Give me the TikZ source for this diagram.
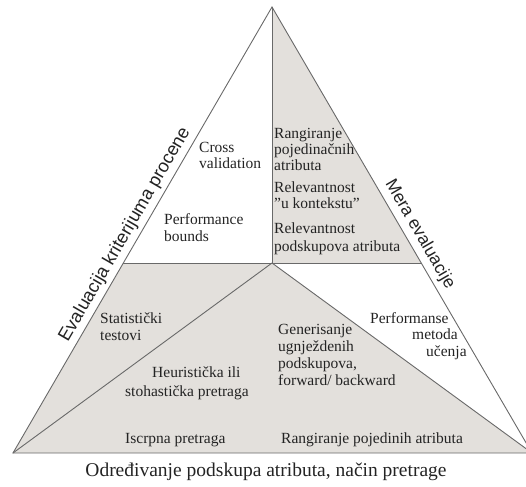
\documentclass[tikz,border=0pt]{standalone}
\usepackage{fontspec}
\setmainfont{Liberation Serif}
\newfontfamily\labelsans{Liberation Sans}
\usetikzlibrary{calc}
\definecolor{panel}{RGB}{227,224,220}
\definecolor{edge}{RGB}{105,105,105}
\definecolor{ink}{RGB}{35,35,35}
\begin{document}
\begin{tikzpicture}[x=1pt,y=-1pt,
  txt/.style={inner sep=0pt, text=ink, anchor=base west, align=left,
              font=\fontsize{15.5}{17}\selectfont},
  axislabel/.style={inner sep=0pt, text=ink, anchor=base,
              font=\labelsans\fontsize{17.5}{20}\selectfont},
  divider/.style={draw=edge, line width=0.9pt}]
\clip (0,0) rectangle (526,486);

% corners of the pyramid and the inner meeting point
\coordinate (A)  at (272,7);
\coordinate (BL) at (13,453);
\coordinate (BR) at (532,453);
\coordinate (C)  at (272,263);
\coordinate (HL) at ($(BL)!{190/446}!(A)$);
\coordinate (HR) at ($(BR)!{190/446}!(A)$);

% shaded sectors
\fill[panel] (A) -- (C) -- (HR) -- cycle;
\fill[panel] (HL) -- (C) -- (BR) -- (BL) -- cycle;

% outline and dividing lines
\draw[divider, line join=miter] (A) -- (BR) -- (BL) -- cycle;
\draw[divider] (A) -- (C);
\draw[divider] (HL) -- (HR);
\draw[divider] (C) -- (BL);
\draw[divider] (C) -- (BR);

% side labels, set just outside the slanted edges
\coordinate (ML) at ($(BL)!0.475!(A)$);
\coordinate (MR) at ($(A)!0.525!(BR)$);
\node[axislabel, rotate=59.9, font=\labelsans\fontsize{18.3}{20}\selectfont] (evalk)
  at ($(ML)!8pt!90:(A)$) {Evaluacija kriterijuma procene};
\node[axislabel, rotate=-59.8] (mera) at ($(MR)!8.5pt!-90:(A)$) {Mera evaluacije};

% upper left sector
\node[txt] (cv) at (199,169) {Cross\\validation};
\node[txt] (pb) at (164,241) {Performance\\bounds};

% upper right sector
\node[txt, font=\fontsize{15.5}{16}\selectfont] (rang) at (274,171) {Rangiranje\\pojedinačnih\\atributa};
\node[txt, font=\fontsize{15.5}{15.5}\selectfont] (relk) at (274,208) {Relevantnost\\”u kontekstu”};
\node[txt, font=\fontsize{15.5}{18}\selectfont] (rels) at (274,251) {Relevantnost\\podskupova atributa};

% lower sectors
\node[txt] (stat) at (100,340) {Statistički\\testovi};
\node[txt, font=\fontsize{15.5}{19}\selectfont] (heur) at (125,396) {\hspace*{27pt}Heuristička ili\\stohastička pretraga};
\node[txt] (gen) at (278,385) {Generisanje\\ugnježdenih\\podskupova,\\forward/ backward};
\node[txt, font=\fontsize{15.5}{16.5}\selectfont] (perf) at (370,356) {Performanse\\\hspace*{42pt}metoda\\\hspace*{56pt}učenja};
\node[txt] (iscrpna) at (125,443) {Iscrpna pretraga};
\node[txt] (rangpoj) at (281,443) {Rangiranje pojedinih atributa};

% base caption
\node[inner sep=0pt, text=ink, anchor=base, font=\fontsize{19.5}{22}\selectfont] (base) at (266,476)
  {Određivanje podskupa atributa, način pretrage};
\end{tikzpicture}
\end{document}
